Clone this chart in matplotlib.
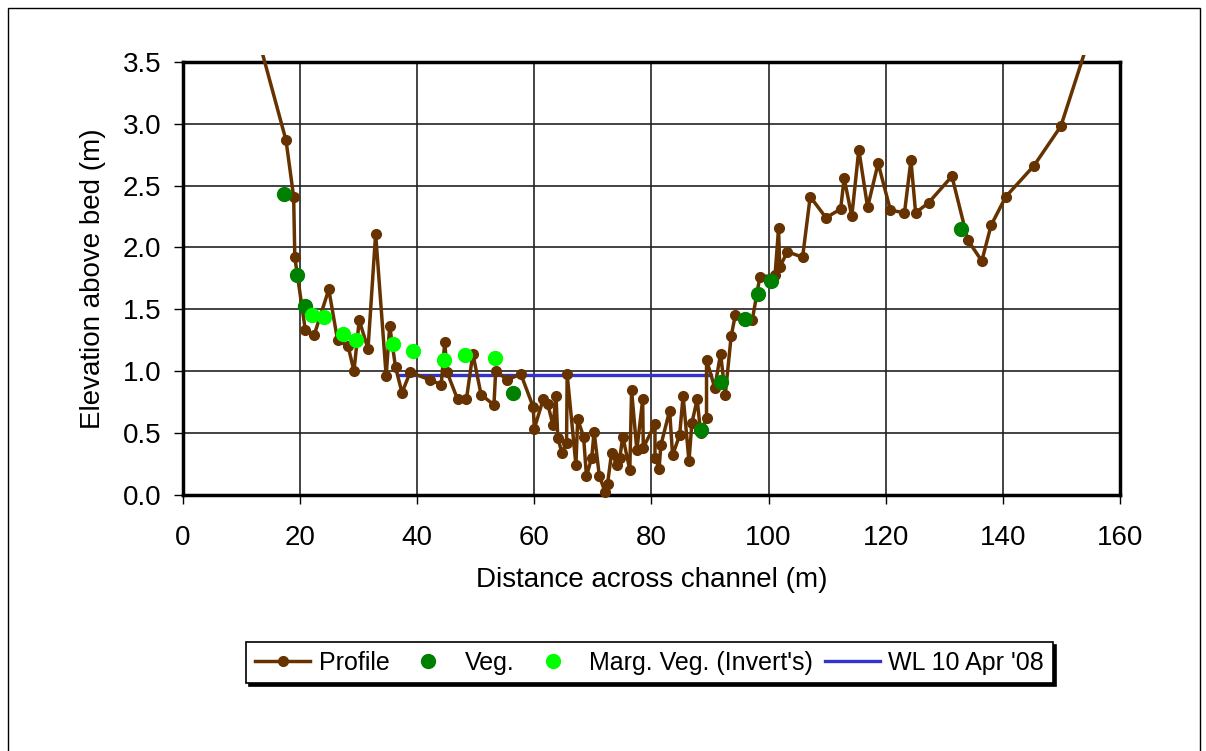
import numpy as np
import matplotlib
matplotlib.use("Agg")
import matplotlib.pyplot as plt
from matplotlib.patches import Rectangle

plt.rcParams['font.family'] = ['Liberation Sans', 'DejaVu Sans']

# channel cross-section profile
profile_x = [11.5, 17.6, 18.9, 19.1, 20.9, 22.4, 24.9, 26.4, 28.2, 29.2, 30.1, 31.6,
             32.9, 34.7, 35.3, 36.3, 37.4, 38.8, 42.1, 44.1, 44.7, 45.1, 46.9, 48.4,
             49.5, 50.9, 53.1, 53.4, 55.4, 57.7, 59.8, 60.0, 61.5, 62.3, 63.2, 63.7,
             64.0, 64.7, 65.5, 65.6, 67.1, 67.4, 68.4, 68.9, 69.8, 70.2, 71.1, 72.1,
             72.5, 73.2, 74.1, 74.6, 75.1, 76.3, 76.6, 77.5, 78.5, 78.6, 80.6, 80.6,
             81.3, 81.6, 83.1, 83.6, 84.8, 85.4, 86.4, 86.9, 87.8, 88.4, 89.4, 89.4,
             90.8, 91.8, 92.6, 93.6, 94.3, 96.0, 97.2, 98.5, 101.1, 101.7, 101.9,
             103.2, 105.8, 107.1, 109.8, 112.3, 112.9, 114.2, 115.4, 116.9, 118.7,
             120.8, 123.2, 124.3, 125.1, 127.3, 131.3, 134.0, 136.4, 138.0, 140.5,
             145.3, 149.9, 156.5]
profile_y = [3.93, 2.865, 2.41, 1.92, 1.33, 1.29, 1.66, 1.25, 1.20, 1.00, 1.41, 1.18,
             2.11, 0.96, 1.365, 1.03, 0.825, 0.99, 0.93, 0.89, 1.235, 0.99, 0.77, 0.77,
             1.14, 0.81, 0.725, 1.00, 0.93, 0.975, 0.71, 0.535, 0.77, 0.73, 0.56, 0.80,
             0.46, 0.34, 0.42, 0.975, 0.24, 0.61, 0.47, 0.15, 0.30, 0.51, 0.15, 0.02,
             0.09, 0.34, 0.24, 0.30, 0.47, 0.20, 0.845, 0.36, 0.77, 0.38, 0.57, 0.30,
             0.21, 0.40, 0.68, 0.32, 0.48, 0.80, 0.27, 0.58, 0.77, 0.50, 0.62, 1.09,
             0.865, 1.14, 0.81, 1.28, 1.45, 1.42, 1.41, 1.76, 1.775, 2.155, 1.84,
             1.965, 1.92, 2.41, 2.24, 2.31, 2.56, 2.25, 2.79, 2.325, 2.68,
             2.30, 2.28, 2.705, 2.28, 2.36, 2.575, 2.06, 1.89, 2.18, 2.41,
             2.66, 2.98, 3.95]

veg_x = [17.25, 19.5, 20.9, 56.4, 88.5, 91.8, 96.0, 98.2, 100.4, 132.9]
veg_y = [2.43, 1.78, 1.525, 0.825, 0.52, 0.91, 1.42, 1.62, 1.73, 2.15]

marg_x = [22.1, 24.0, 27.4, 29.5, 35.9, 39.3, 44.5, 48.2, 53.3]
marg_y = [1.45, 1.435, 1.30, 1.25, 1.22, 1.165, 1.09, 1.13, 1.105]

wl_x = [36.9, 90.1]
wl_y = [0.965, 0.965]

fig = plt.figure(figsize=(12.06, 7.51), dpi=100)
fig.patches.append(Rectangle((0.007, -0.01), 0.988, 1.0, transform=fig.transFigure,
                             fill=False, edgecolor='black', linewidth=1.0))
ax = fig.add_axes([0.1517, 0.3413, 0.777, 0.5763])

clip = Rectangle((0, -0.03), 1, 1.047, transform=ax.transAxes, visible=False)
ax.add_patch(clip)

prof, = ax.plot(profile_x, profile_y, color='#663300', lw=2.5, marker='o', ms=7,
                label='Profile', zorder=3)
prof.set_clip_path(clip)
ax.plot(veg_x, veg_y, 'o', color='#008000', ms=10, label='Veg.', zorder=4)
ax.plot(marg_x, marg_y, 'o', color='#00FF00', ms=10, label="Marg. Veg. (Invert's)", zorder=4)
ax.plot(wl_x, wl_y, color='#3333CC', lw=2.4, label="WL 10 Apr '08", zorder=2)

ax.set_xlim(0, 160)
ax.set_ylim(0, 3.5)
ax.set_xticks(np.arange(0, 161, 20))
ax.set_yticks(np.arange(0, 3.51, 0.5))
ax.set_yticklabels([f'{v:.1f}' for v in np.arange(0, 3.51, 0.5)])
ax.grid(True, color='#222222', lw=1.2)
ax.set_axisbelow(True)
for s in ax.spines.values():
    s.set_linewidth(2.5)
ax.tick_params(labelsize=20, length=6.5, width=1.0, pad=9)
ax.tick_params(axis='x', pad=15)
ax.set_xlabel('Distance across channel (m)', fontsize=20, labelpad=12)
ax.set_ylabel('Elevation above bed (m)', fontsize=20, labelpad=12)

leg = ax.legend(loc='center', bbox_to_anchor=(0.498, -0.388), ncol=4, fontsize=18,
                frameon=True, fancybox=False,
                shadow={'color': 'black', 'alpha': 1.0},
                edgecolor='black', handlelength=2.2, columnspacing=0.45,
                handletextpad=0.35, borderpad=0.35, borderaxespad=0)
leg.get_frame().set_linewidth(1.2)

fig.savefig('out.png', dpi=100)
